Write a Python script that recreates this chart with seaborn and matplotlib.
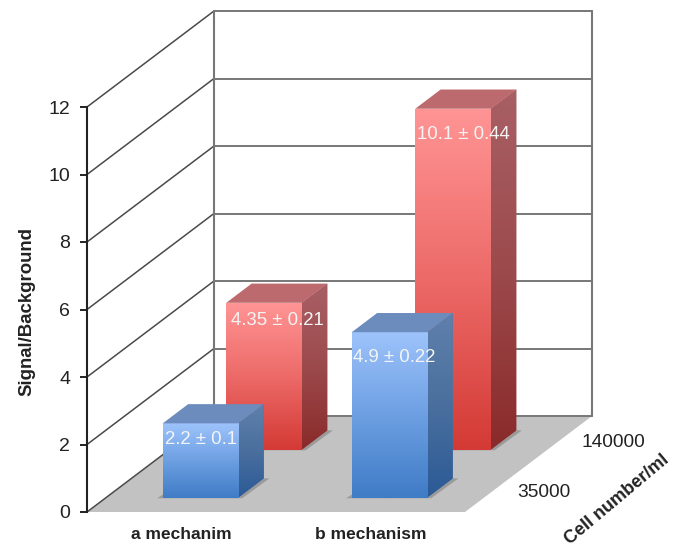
import matplotlib
matplotlib.use("Agg")
import matplotlib.pyplot as plt
import numpy as np
import pandas as pd
import seaborn as sns
from matplotlib.colors import LinearSegmentedColormap
from matplotlib.patches import Polygon

# Chart values
mechanisms = ["a mechanim", "b mechanism"]
cell_numbers = ["35000", "140000"]
means_35000 = [2.2, 4.9]
errors_35000 = [0.1, 0.22]
means_140000 = [4.35, 10.1]
errors_140000 = [0.21, 0.44]
value_ticks = [0, 2, 4, 6, 8, 10, 12]

# Oblique layout, in figure pixels
FIG_W, FIG_H = 680, 553
PLANE_LEFT, PLANE_RIGHT, PLANE_BOTTOM, PLANE_TOP = 87, 465, 512, 107
DEPTH_PX_X, DEPTH_PX_Y = 127, 96
BAR_DEPTH = 0.2
DEPTH_CENTRES = [0.25, 0.75]

sns.set_theme(style="white")
plt.rcParams["font.family"] = ["Liberation Sans", "DejaVu Sans"]

fig = plt.figure(figsize=(FIG_W / 100, FIG_H / 100), dpi=100, facecolor="white")


def plane_axes(depth):
    """Transparent axes for the vertical plane lying at a fraction of the depth."""
    x0 = PLANE_LEFT + depth * DEPTH_PX_X
    y0 = (FIG_H - PLANE_BOTTOM) + depth * DEPTH_PX_Y
    return fig.add_axes([x0 / FIG_W, y0 / FIG_H,
                         (PLANE_RIGHT - PLANE_LEFT) / FIG_W,
                         (PLANE_BOTTOM - PLANE_TOP) / FIG_H])


# Frame: floor, side wall and back wall
frame = plane_axes(0)
frame.patch.set_alpha(0)
frame.set_xlim(-0.5, 1.5)
frame.set_ylim(0, 12)
unit_x = (PLANE_RIGHT - PLANE_LEFT) / 2
unit_y = (PLANE_BOTTOM - PLANE_TOP) / 12
dx = DEPTH_PX_X / unit_x
dy = DEPTH_PX_Y / unit_y

frame.add_patch(Polygon([(-0.5, 0), (1.5, 0), (1.5 + dx, dy), (-0.5 + dx, dy)],
                        closed=True, fc="#c2c2c2", ec="none", clip_on=False, zorder=1))
for v in value_ticks:
    frame.plot([-0.5, -0.5 + dx], [v, v + dy], color="#4a4a4a", lw=1.1,
               clip_on=False, zorder=2)
    frame.plot([-0.5 + dx, 1.5 + dx], [v + dy, v + dy], color="#777777", lw=1.4,
               clip_on=False, zorder=2)
for x in (-0.5 + dx, 1.5 + dx):
    frame.plot([x, x], [dy, 12 + dy], color="#777777", lw=1.5, clip_on=False, zorder=2)

for side in ("top", "right", "bottom"):
    frame.spines[side].set_visible(False)
frame.spines["left"].set_color("#222222")
frame.spines["left"].set_linewidth(1.5)
frame.set_yticks(value_ticks)
frame.set_xticks([0, 1], mechanisms)
frame.tick_params(axis="y", left=True, length=5, width=1.4, color="#222222",
                  labelsize=14, labelcolor="#222222", pad=7)
frame.tick_params(axis="x", bottom=False, labelsize=12.5, labelcolor="#222222", pad=4.5)
for label in frame.get_xticklabels():
    label.set_fontweight("bold")
frame.set_ylabel("Signal/Background", fontsize=13.4, fontweight="bold", color="#222222")
frame.yaxis.set_label_coords(-0.137, 0.495)

# Depth axis labels along the right edge of the floor
for name, centre, drop in zip(cell_numbers, DEPTH_CENTRES, (-3, -2)):
    frame.annotate(name, xy=(1.5 + centre * dx, centre * dy), xytext=(15, drop),
                   textcoords="offset points", ha="left", va="center",
                   fontsize=13.8, color="#222222", annotation_clip=False)
frame.annotate("Cell number/ml", xy=(1.5 + 0.5 * dx, 0.5 * dy), xytext=(64, -26),
               textcoords="offset points", ha="center", va="center", rotation=40,
               fontsize=13, fontweight="bold", color="#222222", annotation_clip=False)

# Colour ramps for each series: front face, side face, top face
series_style = {
    "35000": dict(front=["#3f7cc6", "#6d9fe2", "#9dc3fb"],
                  side=["#2b5a96", "#4a6f9e", "#5f80ab"], top="#6b8cbc"),
    "140000": dict(front=["#d43a35", "#ec6a68", "#ff9494"],
                   side=["#8a2a2a", "#9c4a4c", "#a86065"], top="#bd6a6e"),
}
# Label nudges from the bar's centre and top, in pixels
label_nudge = {
    ("35000", 0): (0, -16), ("35000", 1): (5, -25),
    ("140000", 0): (13, -18), ("140000", 1): (10, -26),
}


def ramp(ax, colours, extent, clip):
    cmap = LinearSegmentedColormap.from_list("ramp", colours)
    shade = np.linspace(1, 0, 128).reshape(-1, 1)
    im = ax.imshow(shade, cmap=cmap, vmin=0, vmax=1, extent=extent, aspect="auto",
                   origin="upper", zorder=3)
    im.set_clip_path(clip)


table = pd.DataFrame({
    "mechanism": mechanisms * 2,
    "cells": [cell_numbers[0]] * 2 + [cell_numbers[1]] * 2,
    "mean": means_35000 + means_140000,
    "error": errors_35000 + errors_140000,
})

# Back row first so the front row overlaps it
for cells, centre in reversed(list(zip(cell_numbers, DEPTH_CENTRES))):
    rows = table[table["cells"] == cells]
    style = series_style[cells]
    ax = plane_axes(centre - BAR_DEPTH / 2)
    ax.patch.set_alpha(0)
    sns.barplot(data=rows, x="mechanism", y="mean", order=mechanisms, width=0.4,
                color=style["front"][1], saturation=1, errorbar=None, linewidth=0,
                edgecolor="none", ax=ax)
    ax.set_xlim(-0.5, 1.5)
    ax.set_ylim(0, 12)
    ax.set_autoscale_on(False)
    ax.set_xlabel("")
    ax.set_ylabel("")
    ax.axis("off")
    ddx, ddy = BAR_DEPTH * dx, BAR_DEPTH * dy
    for i, bar in enumerate(list(ax.patches)):
        x0, x1 = bar.get_x(), bar.get_x() + bar.get_width()
        v = bar.get_height()
        # Contact shadow on the floor
        ax.add_patch(Polygon([(x0 - 0.03, -0.02), (x1 + 0.02, -0.02),
                              (x1 + ddx + 0.03, ddy), (x0 + ddx, ddy)],
                             closed=True, fc="#9a9a9a", ec="none", clip_on=False, zorder=2))
        bar.set_zorder(3)
        bar.set_clip_on(False)
        side = Polygon([(x1, 0), (x1 + ddx, ddy), (x1 + ddx, v + ddy), (x1, v)],
                       closed=True, fc=style["side"][1], ec="none",
                       transform=ax.transData, clip_on=False, zorder=3)
        ax.add_patch(side)
        ramp(ax, style["side"], (x1, x1 + ddx, 0, v + ddy), side)
        ramp(ax, style["front"], (x0, x1, 0, v), bar)
        ax.add_patch(Polygon([(x0, v), (x1, v), (x1 + ddx, v + ddy), (x0 + ddx, v + ddy)],
                             closed=True, fc=style["top"], ec="none", clip_on=False, zorder=4))
        nudge = label_nudge[(cells, i)]
        row = rows.iloc[i]
        ax.annotate(f"{row['mean']:g} ± {row['error']:g}",
                    xy=((x0 + x1) / 2, v), xytext=(nudge[0] * 0.72, nudge[1] * 0.72),
                    textcoords="offset points", ha="center", va="center",
                    fontsize=13.4, color="#f4f4f4", annotation_clip=False, zorder=6)
    ax.set_xlim(-0.5, 1.5)
    ax.set_ylim(0, 12)

fig.savefig("out.png", dpi=100, facecolor="white")
